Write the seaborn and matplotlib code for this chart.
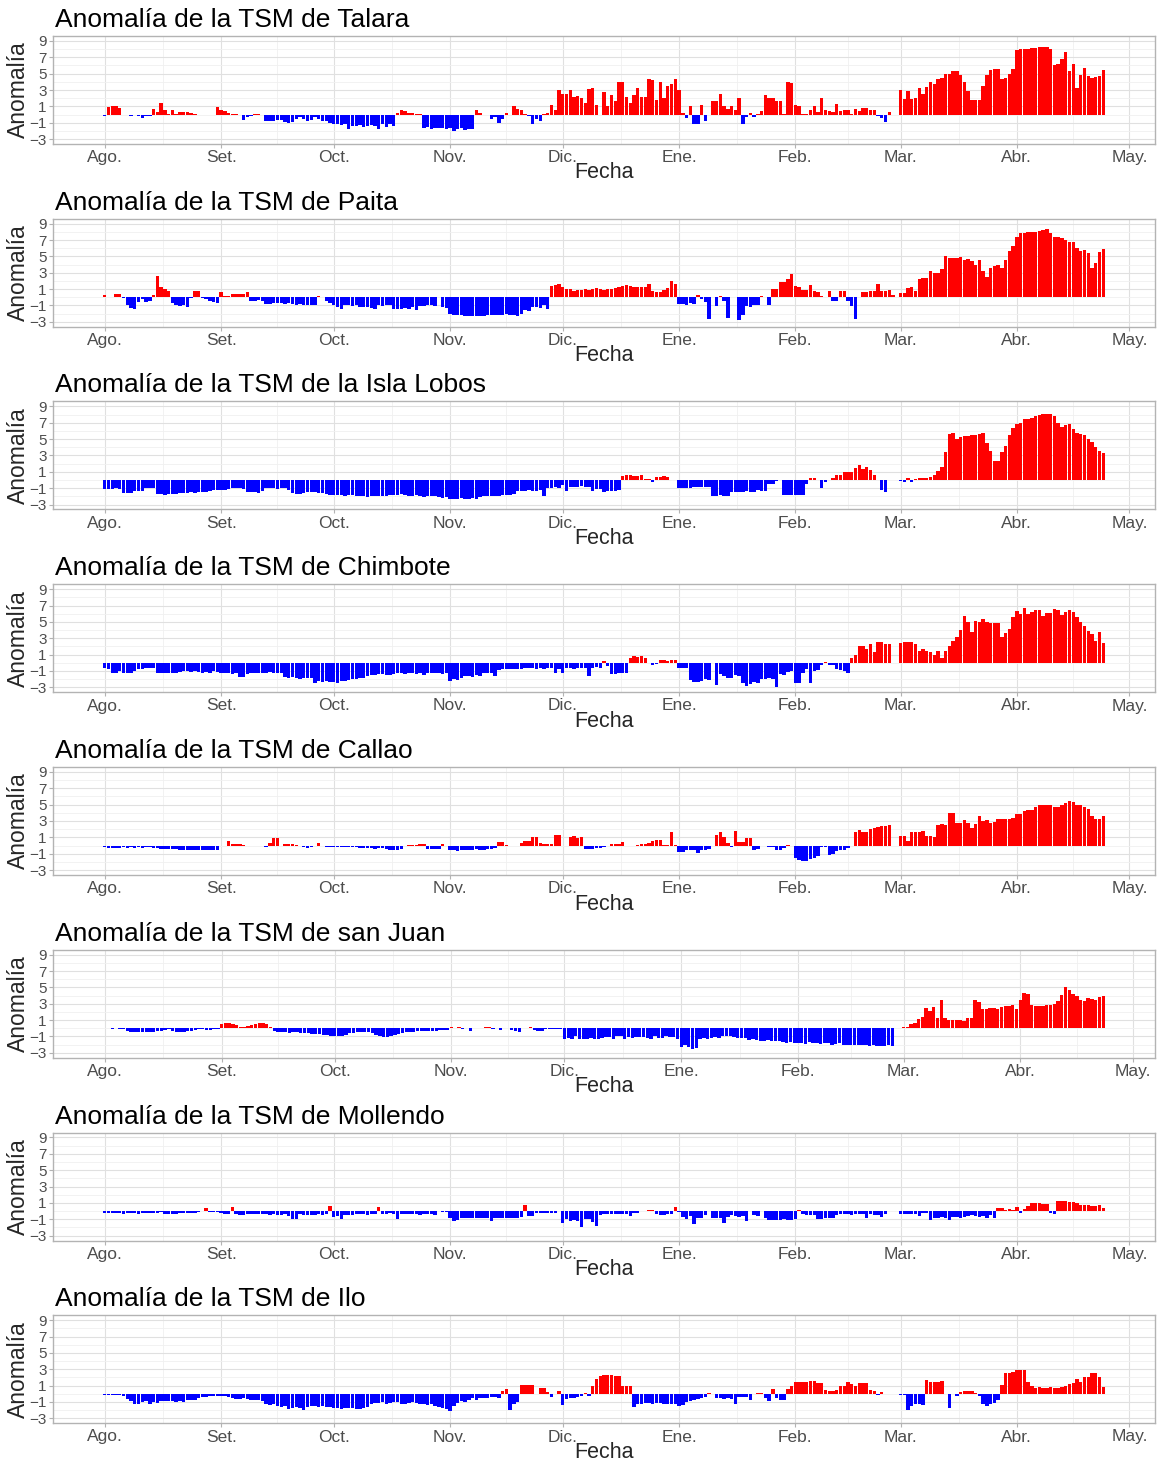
import numpy as np
import pandas as pd
import matplotlib
matplotlib.use("Agg")
import matplotlib.pyplot as plt
import seaborn as sns
from matplotlib.ticker import FixedLocator

nan = np.nan

# months Aug 2016 .. Apr 2017, one list of daily anomalies per month
meses_inicio = pd.date_range("2016-08-01", "2017-05-01", freq="MS")
meses_etiquetas = ["Ago.", "Set.", "Oct.", "Nov.", "Dic.", "Ene.", "Feb.", "Mar.", "Abr.", "May."]

talara = [
    [-0.2, 0.9, 1.1, 1.1, 0.8, -0.1, -0.1, -0.2, -0.1, -0.2, -0.4, -0.2, -0.2, 0.7, 0.3, 1.4, 0.6, 0.1, 0.5, 0.1, 0.3, 0.3, 0.3, 0.2, 0.1, 0.0, -0.05, -0.05, -0.1, -0.05, 0.9],
    [0.6, 0.4, 0.2, 0.1, 0.1, -0.1, -0.7, -0.3, -0.2, 0.1, 0.1, -0.1, -0.8, -0.8, -0.8, -0.7, -0.7, -0.9, -1.0, -0.9, -0.5, -0.3, -0.6, -0.8, -0.7, -0.3, -0.6, -0.8, -0.8, -1.0],
    [-1.1, -1.2, -1.3, -1.2, -1.8, -1.4, -1.4, -1.3, -1.5, -1.4, -1.3, -1.4, -1.8, -1.2, -1.5, -1.2, -1.4, 0.2, 0.6, 0.4, 0.2, 0.2, 0.1, 0.1, -1.6, -1.5, -1.8, -1.6, -1.7, -1.6, -1.8],
    [-1.7, -2.0, -1.8, -1.7, -1.9, -1.8, -1.8, 0.5, 0.2, 0.0, nan, -0.5, -0.3, -1.0, -0.5, 0.2, 0.0, 1.0, 0.7, 0.6, 0.1, -0.2, -1.2, -0.6, -0.8, 0.1, 0.2, 1.2, 0.5, 3.0],
    [2.5, 2.5, 3.0, 2.1, 2.3, 2.0, 1.4, 3.1, 3.2, 1.2, 0.0, 2.8, 1.0, 2.4, 1.6, 4.0, 4.0, 2.2, 1.4, 2.4, 3.2, 2.1, 2.2, 4.3, 4.2, 1.8, 4.0, 2.0, 3.5, 3.7, 4.3],
    [3.0, 0.2, -0.4, 1.0, -1.2, -1.1, 1.2, -0.8, nan, 1.6, 1.6, 2.5, 1.0, 0.7, 1.1, 0.6, 2.0, -1.2, -0.3, 0.2, -0.3, 0.05, 0.4, 2.4, 2.0, 2.0, 1.7, 1.7, 0.1, 4.0, 3.8],
    [1.2, 1.1, 0.1, 0.1, 0.6, 1.0, 0.3, 2.0, 0.6, 0.4, 0.3, 1.3, 0.4, 0.5, 0.5, 0.1, 0.7, 0.4, 0.8, 0.8, 0.6, 0.6, -0.2, -0.4, -0.9, 0.3, nan, nan],
    [3.0, 1.9, 2.9, 1.9, 2.0, 3.2, 2.5, 3.4, 4.0, 3.7, 4.3, 4.5, 4.9, 5.0, 5.3, 5.3, 4.8, 4.0, 2.9, 1.8, 1.8, 1.8, 3.5, 4.8, 5.4, 5.6, 5.6, 4.4, 4.5, 5.0, 5.6],
    [7.9, 8.0, 8.0, 8.0, 8.1, 8.1, 8.2, 8.2, 8.2, 8.0, 6.0, 6.2, 6.8, 7.6, 5.3, 6.2, 3.3, 4.8, 5.7, 4.7, 4.5, 4.6, 4.7, 5.5],
]

paita = [
    [0.3, nan, nan, 0.4, 0.4, -0.1, -0.9, -1.3, -1.4, -0.6, -0.2, -0.6, -0.4, 0.3, 2.6, 1.3, 1.0, 0.8, -0.7, -0.9, -1.1, -1.0, -1.2, -0.1, 0.8, 0.8, -0.1, -0.2, -0.4, -0.6, -0.7],
    [0.6, 0.1, 0.1, 0.4, 0.4, 0.4, 0.4, 0.6, -0.4, -0.4, -0.3, -0.5, -0.8, -0.8, -0.7, -0.7, -0.7, -0.8, -0.7, -0.8, -1.0, -0.8, -1.0, -1.0, -0.9, -1.0, 0.2, nan, -0.4, -0.7],
    [-1.0, -1.2, -1.4, -1.0, -1.0, -1.1, -1.0, -1.2, -1.2, -1.2, -1.3, -1.4, -1.0, -1.1, -1.0, -1.0, -1.4, -1.4, -1.4, -1.3, -1.4, -1.2, -1.6, -1.1, -1.1, -1.0, -1.0, -1.1, nan, -1.2, -1.3],
    [-2.0, -2.2, -2.2, -2.2, -2.3, -2.3, -2.3, -2.3, -2.3, -2.3, -2.2, -2.2, -2.2, -2.2, -2.2, -2.1, -2.2, -2.2, -2.3, -2.1, -1.6, -1.7, -1.2, -1.2, -1.3, -0.9, -1.4, 1.4, 1.5, 1.6],
    [1.3, 1.0, 1.0, 0.8, 0.9, 0.9, 1.0, 0.9, 1.0, 1.1, 1.0, 0.9, 1.0, 1.0, 1.1, 1.3, 1.4, 1.5, 1.4, 1.3, 1.3, 1.2, 1.3, 1.6, 0.8, 0.7, 0.6, 0.9, 1.1, 2.0, 1.6],
    [-0.8, -0.8, -0.9, -0.7, -0.8, 0.3, -0.2, -0.6, -2.7, nan, -1.1, 0.1, -0.5, -2.5, nan, nan, -2.8, -2.2, -1.1, -1.2, -0.9, -1.0, 0.1, nan, -1.0, 1.0, 1.0, 1.9, 1.9, 2.2, 2.9],
    [1.4, 1.3, 0.9, 0.9, 1.5, 0.8, 0.7, 0.2, nan, 0.8, -0.4, -0.5, 0.8, 0.8, -0.5, -1.1, -2.6, nan, 0.6, 0.6, 0.8, 0.8, 1.6, 0.8, 0.8, 0.9, 0.3, nan],
    [0.5, 0.5, 1.1, 1.2, 0.8, 2.2, 2.3, 2.4, 3.2, 3.0, 3.0, 3.5, 5.0, 4.8, 4.8, 4.8, 4.9, 4.6, 4.7, 4.4, 4.0, 4.5, 3.2, 2.5, 3.6, 3.8, 4.0, 3.6, 4.5, 5.7, 6.3],
    [7.4, 7.8, 7.9, 8.0, 8.0, 8.0, 8.1, 8.2, 8.3, 7.8, 7.4, 7.4, 7.2, 7.0, 6.8, 6.8, 6.0, 5.6, 5.8, 5.4, 3.6, 4.2, 5.5, 5.9],
]

lobos = [
    [-1.1, -1.1, -1.1, -1.0, -1.1, -1.6, -1.6, -1.6, -1.3, -1.3, -1.3, -1.0, -1.0, -1.0, -1.7, -1.7, -1.8, -1.7, -1.7, -1.7, -1.6, -1.6, -1.6, -1.5, -1.6, -1.5, -1.5, -1.5, -1.4, -1.2, -1.2],
    [-1.2, -1.2, -1.1, -1.0, -1.0, -1.0, -1.1, -1.5, -1.5, -1.5, -1.6, -1.4, -1.0, -1.0, -1.0, -1.1, -1.0, -1.0, -1.2, -1.6, -1.7, -1.7, -1.6, -1.5, -1.5, -1.5, -1.6, -1.6, -1.7, -1.8],
    [-1.8, -1.8, -1.8, -1.9, -1.8, -1.8, -1.9, -2.0, -2.0, -2.1, -2.0, -2.0, -2.0, -2.0, -2.0, -1.8, -1.8, -1.8, -1.7, -1.8, -1.9, -1.9, -1.8, -2.0, -2.1, -2.0, -2.0, -1.9, -2.1, -2.2, -2.1],
    [-2.3, -2.3, -2.3, -2.2, -2.3, -2.3, -2.2, -2.3, -2.1, -2.0, -2.0, -1.9, -2.0, -2.0, -1.8, -1.8, -1.8, -1.7, -1.3, -1.3, -1.3, -1.2, -1.4, -1.3, -1.2, -2.0, -1.0, -1.0, -0.9, -1.0],
    [-0.6, -1.4, -0.8, -0.8, -0.8, -0.7, -0.9, -0.8, -1.3, -1.1, -1.1, -1.5, -1.3, -1.4, -1.3, -1.2, 0.5, 0.6, 0.6, 0.5, 0.5, 0.6, 0.1, 0.1, -0.3, 0.4, 0.4, 0.5, 0.4, nan, nan],
    [-1.0, -1.0, -1.0, -1.0, -0.8, -0.9, -0.8, -0.9, -0.8, -1.9, -1.9, -1.8, -1.9, -1.9, -1.5, -1.5, -1.5, -1.5, -1.4, -1.5, -1.5, -1.2, -1.3, -1.3, -0.5, -0.5, -0.1, nan, -1.8, -1.8, -1.8],
    [-1.8, -1.8, -1.8, -0.5, 0.2, 0.3, nan, -1.0, -0.2, nan, 0.3, 0.6, 0.6, 1.0, 1.0, 1.0, 1.5, 1.8, 1.4, 1.6, 1.2, 0.6, nan, -1.2, -1.5, nan, nan, nan],
    [-0.1, -0.2, 0.2, -0.2, 0.1, 0.2, 0.2, 0.3, 0.4, 0.6, 1.1, 1.6, 3.4, 5.6, 5.8, 5.0, 5.3, 5.4, 5.4, 5.5, 5.5, 5.6, 5.7, 4.5, 3.5, 2.3, 2.3, 3.4, 4.2, 5.5, 6.3],
    [6.8, 7.0, 7.4, 7.5, 7.6, 7.8, 8.0, 8.1, 8.1, 8.1, 7.8, 7.0, 6.5, 6.7, 6.8, 6.2, 5.8, 5.6, 5.5, 5.0, 4.6, 4.0, 3.5, 3.3],
]

chimbote = [
    [-0.6, -0.7, -1.3, -1.3, -1.0, -1.2, -1.3, -1.2, -1.0, -0.8, -0.8, -0.6, -0.6, -0.6, -1.3, -1.3, -1.3, -1.3, -1.2, -1.3, -1.1, -1.0, -1.0, -1.1, -1.0, -1.1, -1.2, -1.1, -1.2, -1.0, -1.1],
    [-1.2, -1.3, -1.3, -1.4, -1.3, -1.7, -1.7, -1.4, -1.3, -1.3, -1.2, -1.3, -1.2, -1.1, -1.3, -1.2, -1.3, -1.7, -1.8, -1.7, -1.9, -2.0, -1.9, -1.8, -1.9, -2.5, -2.2, -2.3, -2.2, -2.3],
    [-2.3, -2.5, -2.2, -2.2, -2.1, -2.0, -2.0, -1.9, -1.8, -1.6, -1.5, -1.5, -1.4, -1.4, -1.5, -1.5, -1.4, -1.3, -1.3, -1.4, -1.3, -1.2, -1.4, -1.3, -1.5, -1.3, -1.2, -1.3, -1.3, -1.4, -1.3],
    [-2.2, -2.0, -2.1, -1.8, -1.6, -1.6, -1.7, -1.5, -1.6, -1.2, -1.2, -1.3, -1.6, -0.9, -0.8, -0.8, -0.7, -0.7, -0.8, -0.7, -0.6, -0.6, -0.6, -0.7, -0.6, -0.7, -0.6, -0.6, -1.3, -0.7],
    [-1.3, -0.6, -0.6, -0.7, -0.6, -0.6, -0.6, -1.6, -0.6, -0.5, -0.6, 0.2, -0.4, -1.4, -1.4, -1.3, -1.3, -1.3, 0.6, 0.8, 0.7, 0.8, 0.6, 0.0, -0.3, -0.1, 0.3, 0.3, 0.2, 0.3, 0.3],
    [-0.6, -0.6, -0.6, -2.1, -2.3, -2.4, -2.2, -2.0, -2.1, nan, -2.7, -1.4, -1.6, -1.8, -1.9, -1.5, -1.6, -2.5, -2.8, -2.6, -2.3, -2.5, -2.0, -2.0, -1.8, -2.0, -2.9, -1.4, -1.5, -1.1, -1.0],
    [-2.5, -2.5, -1.3, -0.8, -2.5, -1.0, -0.9, -0.3, 0.1, -0.3, -0.3, -0.7, -0.9, -1.0, -1.2, 0.6, 1.0, 2.0, 2.0, 1.7, 2.3, 1.3, 2.6, 2.6, 2.3, 2.3, nan, nan],
    [2.4, 2.6, 2.6, 2.5, 2.3, 1.4, 1.7, 1.5, 1.3, 1.0, 1.5, 0.6, 1.5, 2.0, 2.7, 3.2, 4.0, 5.7, 5.0, 3.8, 5.1, 5.0, 5.4, 5.0, 4.9, 4.9, 4.9, 3.1, 3.7, 4.1, 5.6],
    [6.3, 6.0, 6.7, 6.0, 6.2, 6.4, 6.4, 5.7, 6.1, 6.1, 6.6, 6.4, 5.9, 6.2, 6.5, 6.2, 5.6, 5.0, 4.5, 3.9, 3.5, 2.7, 3.8, 2.4],
]

callao = [
    [-0.2, -0.3, -0.3, -0.3, -0.3, -0.2, -0.3, -0.2, -0.3, -0.2, -0.3, -0.2, -0.2, -0.3, -0.3, -0.4, -0.4, -0.4, -0.4, -0.4, -0.5, -0.6, -0.6, -0.6, -0.6, -0.6, -0.6, -0.6, -0.6, -0.6, -0.6],
    [nan, nan, 0.6, 0.2, 0.2, 0.2, 0.1, 0.0, nan, -0.1, -0.1, -0.1, -0.2, 0.3, 0.9, 0.9, nan, 0.2, 0.2, 0.2, 0.1, nan, -0.2, -0.3, -0.2, -0.1, 0.3, -0.1, -0.2, -0.2],
    [-0.2, -0.2, -0.2, -0.2, -0.2, -0.2, -0.2, -0.3, -0.3, -0.3, -0.3, -0.4, -0.3, -0.3, -0.4, -0.5, -0.6, -0.6, -0.4, nan, 0.1, 0.1, 0.1, 0.2, 0.2, -0.4, -0.4, -0.4, -0.4, 0.2, nan],
    [-0.5, -0.6, -0.7, -0.6, -0.6, -0.5, -0.5, -0.4, -0.5, -0.5, -0.4, -0.4, -0.3, 0.4, 0.4, 0.1, -0.1, -0.1, -0.1, 0.3, 0.5, 0.6, 1.0, 1.1, 0.3, 0.2, 0.2, 0.2, 1.3, 1.3],
    [-0.1, nan, 1.0, 1.2, 0.9, 1.1, -0.4, -0.4, -0.4, -0.3, -0.3, -0.2, -0.1, 0.2, 0.2, 0.2, 0.4, -0.1, -0.1, -0.1, 0.1, 0.2, 0.2, 0.3, 0.5, 0.7, 0.7, 0.1, 0.1, 1.7, 0.1],
    [-0.8, -0.8, -0.5, -0.5, -0.6, -0.9, -0.6, -0.5, -0.4, nan, 1.3, 1.6, 1.0, 0.3, -0.2, 1.8, 0.4, 0.4, 0.9, 0.9, -0.5, -0.4, nan, nan, -0.2, -0.2, -0.6, -0.6, -0.3, 0.1, -0.1],
    [-1.5, -1.8, -1.9, -1.9, -1.7, -1.5, -1.3, -0.2, -0.2, -1.2, -1.0, -0.7, -0.6, -0.5, -0.3, nan, 1.6, 1.9, 1.6, 1.7, 2.0, 2.2, 2.3, 2.4, 2.4, 2.5, nan, nan],
    [1.2, 1.2, 0.6, 1.6, 1.6, 1.7, 1.8, 1.2, 1.2, 1.1, 2.5, 2.6, 2.5, 4.0, 4.0, 2.8, 2.8, 3.1, 2.8, 2.2, 2.6, 3.6, 3.0, 3.1, 2.7, 2.9, 3.2, 3.2, 3.3, 3.3, 3.4],
    [3.9, 3.9, 4.2, 4.3, 4.3, 4.7, 5.0, 5.0, 5.0, 5.0, 4.7, 4.7, 5.0, 5.2, 5.4, 5.3, 5.0, 5.0, 4.7, 4.5, 3.6, 3.2, 3.2, 3.6],
]

san_juan = [
    [0.05, 0.05, -0.05, 0.05, -0.05, -0.1, -0.3, -0.4, -0.4, -0.5, -0.5, -0.5, -0.4, -0.4, -0.3, -0.3, -0.2, -0.1, -0.3, -0.4, -0.4, -0.4, -0.3, -0.3, -0.2, -0.1, -0.1, -0.2, -0.2, -0.1, -0.1],
    [0.5, 0.6, 0.6, 0.5, 0.4, 0.2, 0.2, 0.3, 0.4, 0.5, 0.6, 0.7, 0.5, 0.2, -0.3, -0.5, -0.5, -0.5, -0.6, -0.5, -0.5, -0.6, -0.6, -0.6, -0.7, -0.7, -0.7, -0.8, -0.8, -0.9],
    [-0.9, -1.0, -0.9, -0.8, -0.6, -0.6, -0.5, -0.5, -0.4, -0.5, -0.6, -0.8, -1.0, -1.1, -1.1, -1.0, -0.8, -0.7, -0.6, -0.5, -0.4, -0.4, -0.3, -0.3, -0.3, -0.3, -0.3, -0.3, -0.2, -0.2, -0.2],
    [0.2, nan, 0.2, -0.1, nan, -0.3, nan, nan, nan, 0.1, 0.1, -0.1, nan, -0.2, nan, nan, -0.2, -0.3, -0.4, nan, nan, 0.1, -0.2, -0.3, -0.3, -0.1, -0.1, -0.1, -0.1, -0.1],
    [-1.3, -1.2, -1.3, -1.0, -1.3, -1.3, -1.3, -1.2, -1.3, -1.3, -1.2, -1.1, -1.1, -1.3, -1.0, -1.0, -1.3, -1.1, -1.2, -1.1, -1.1, -1.1, -1.2, -1.3, -1.0, -1.2, -1.2, -1.0, -1.1, -1.1, -1.3],
    [-2.3, -2.0, -2.3, -2.5, -2.4, -1.3, -1.2, -1.3, -1.2, -1.1, -1.2, -1.0, -0.9, -1.0, -1.1, -1.2, -1.2, -1.2, -1.4, -1.3, -1.4, -1.5, -1.5, -1.4, -1.6, -1.6, -1.5, -1.7, -1.8, -1.7, -1.8],
    [-1.8, -1.8, -1.9, -1.7, -1.8, -1.8, -1.9, -1.8, -1.8, -2.0, -1.9, -1.8, -2.1, -2.1, -2.0, -2.0, -2.1, -2.1, -2.0, -2.2, -2.1, -2.2, -2.2, -2.2, -2.1, -2.2, nan, nan],
    [0.2, 0.1, 0.5, 0.7, 1.1, 1.4, 2.5, 2.1, 2.6, 1.2, 3.5, 1.3, 1.0, 1.0, 1.0, 1.0, 0.9, 1.2, 1.3, 3.5, 3.2, 2.4, 2.4, 2.5, 2.5, 2.3, 2.6, 2.7, 2.7, 2.9, 2.4],
    [3.4, 4.3, 4.2, 2.8, 2.7, 2.7, 2.7, 2.8, 2.8, 3.0, 3.3, 4.1, 5.0, 4.7, 4.2, 3.9, 3.4, 3.3, 3.7, 3.6, 3.5, 3.8, 3.9],
]

mollendo = [
    [-0.2, -0.2, -0.2, -0.2, -0.2, -0.3, -0.2, -0.2, -0.2, -0.3, -0.2, -0.2, -0.2, -0.2, -0.2, -0.1, -0.4, -0.4, -0.4, -0.3, -0.2, -0.2, -0.2, -0.2, -0.2, -0.1, nan, 0.4, -0.1, -0.1, -0.1],
    [-0.2, -0.3, -0.3, 0.5, -0.3, -0.5, -0.5, -0.4, -0.4, -0.4, -0.3, -0.3, -0.4, -0.5, -0.4, -0.5, -0.5, -0.4, -0.6, -1.0, -1.0, -0.4, -0.5, -0.5, -0.5, -0.5, -0.4, -0.5, -0.4, 0.6],
    [-0.7, -0.6, -1.0, -0.5, -0.5, -0.5, -0.4, -0.4, -0.4, -0.5, -0.3, -0.4, 0.5, -0.3, -0.3, -0.2, -0.3, -1.0, -0.3, -0.3, -0.4, -0.4, -0.4, -0.5, -0.3, -0.4, -0.4, -0.5, nan, -0.1, -0.1],
    [-0.9, -1.2, -1.1, -0.9, -0.8, -0.9, -0.9, -0.9, -0.8, -0.9, -0.8, -1.2, -0.9, -0.9, -0.9, -0.9, -0.9, -0.9, -0.8, -0.7, 0.7, -0.6, -0.6, -0.2, -0.2, -0.2, -0.2, -0.2, -0.2, nan],
    [-1.5, -1.0, -1.2, -1.1, -1.2, -1.9, -1.0, -1.0, -1.3, -1.8, -0.5, -0.4, -0.4, -0.4, -0.4, -0.3, -0.3, -0.3, -0.6, -0.2, -0.2, nan, nan, 0.1, 0.1, -0.4, -0.5, -0.5, -0.4, -0.4, 0.5],
    [-0.1, -0.7, -1.0, -0.6, -1.6, -0.8, -0.8, -0.5, nan, -0.8, -0.8, -0.8, -1.5, -0.7, -0.5, -0.6, -0.7, -0.6, -1.2, nan, -0.5, -0.6, nan, -0.8, -1.1, -1.1, -1.1, -1.1, -1.0, -1.1, -1.1],
    [-1.0, 0.1, -0.3, -0.5, -0.5, -0.5, -1.0, -1.0, -0.9, -0.9, -0.9, -0.5, -0.4, -0.4, -0.3, -0.5, -0.4, -0.4, -0.3, -0.9, -0.4, -0.5, -0.5, -0.7, -0.4, nan, nan, nan],
    [-0.3, -0.3, -0.4, -0.3, -0.4, -0.6, -0.2, -0.2, -1.1, -0.8, -0.8, -0.7, -0.8, -1.1, -0.7, -0.7, -0.8, -0.7, -0.6, -0.5, -0.6, -0.7, -0.6, -0.8, -0.5, -0.8, 0.4, 0.4, 0.1, 0.3, 0.1],
    [0.5, -0.2, 0.3, 0.6, 1.0, 1.0, 1.0, 0.9, 0.9, -0.2, -0.3, 1.2, 1.2, 1.2, 1.1, 1.1, 1.0, 0.8, 0.7, 0.7, 0.6, 0.6, 0.8, 0.4],
]

ilo = [
    [-0.1, -0.2, -0.2, -0.2, -0.2, -0.3, -0.6, -0.9, -1.2, -1.2, -1.0, -0.9, -1.2, -1.0, -1.1, -0.9, -0.9, -0.9, -0.9, -1.0, -0.9, -1.0, -0.8, -0.8, -0.8, -0.5, -0.4, -0.4, -0.3, -0.3, -0.3],
    [-0.3, -0.3, -0.4, -0.5, -0.6, -0.6, -0.5, -0.6, -0.7, -0.7, -0.8, -0.9, -1.3, -1.4, -1.3, -1.5, -1.6, -1.5, -1.8, -1.7, -1.6, -1.7, -2.0, -1.6, -1.5, -1.5, -1.6, -1.5, -1.6, -1.6],
    [-1.7, -1.7, -1.8, -1.7, -1.7, -1.7, -1.8, -1.9, -1.7, -1.6, -1.2, -1.1, -1.1, -1.0, -1.2, -1.1, -1.0, -1.0, -1.2, -1.3, -1.1, -1.0, -1.1, -1.2, -1.3, -1.4, -1.3, -1.5, -1.6, -1.7, -1.8],
    [-2.1, -1.5, -1.1, -0.9, -1.0, -0.7, -0.5, -0.7, -0.5, -0.5, -0.5, -0.4, -0.4, -0.5, 0.3, 0.6, -2.0, -1.2, -1.0, 1.1, 1.1, 1.1, 1.1, nan, 0.7, 0.7, 0.2, -0.4, nan, 0.4],
    [-1.4, -0.6, -0.5, -0.5, -0.4, -0.3, 0.1, -0.3, 1.0, 1.8, 2.2, 2.3, 2.3, 2.3, 2.2, 2.2, 0.9, 0.9, 0.9, -1.6, -1.3, -1.2, -1.1, -1.1, -1.2, -1.1, -1.1, -1.2, -1.3, -1.2, -1.3],
    [-1.5, -1.4, -1.0, -0.9, -0.7, -0.6, -0.5, -0.4, 0.1, nan, -0.5, -0.5, -0.6, -0.5, -0.6, -1.2, -0.4, -0.4, -0.4, -0.8, nan, 0.1, 0.1, -0.5, -0.9, 0.6, -0.5, -0.8, -0.7, 0.6, 1.0],
    [1.5, 1.5, 1.4, 1.4, 1.6, 1.6, 1.3, 1.3, 0.5, 0.4, 0.4, 0.5, 1.0, 1.0, 1.5, 1.2, 1.0, 1.3, 1.3, 1.3, 0.5, 0.4, -0.1, 0.2, nan, nan, nan, nan],
    [-0.1, -0.1, -2.0, -1.5, -1.3, -1.3, -1.4, 1.7, 1.5, 1.4, 1.4, 1.6, nan, -1.7, nan, -0.3, 0.2, 0.3, 0.3, 0.4, 0.1, -0.3, -1.3, -1.5, -1.2, -1.1, -0.8, 1.1, 2.5, 2.6, 2.7],
    [2.9, 2.9, 2.9, 1.5, 1.0, 0.7, 0.8, 0.7, 0.7, 0.8, 0.7, 0.7, 0.8, 1.0, 1.2, 1.3, 1.8, 1.5, 2.1, 2.0, 2.5, 2.6, 2.0, 0.8],
]

estaciones = ["Talara", "Paita", "la Isla Lobos", "Chimbote", "Callao", "san Juan", "Mollendo", "Ilo"]
series = [talara, paita, lobos, chimbote, callao, san_juan, mollendo, ilo]

origen = meses_inicio[0]


def armar_tabla(meses):
    partes = []
    for inicio, valores in zip(meses_inicio, meses):
        fechas = pd.date_range(inicio, periods=len(valores), freq="D")
        partes.append(pd.DataFrame({"fecha": fechas, "anomalia": valores}))
    df = pd.concat(partes, ignore_index=True).dropna()
    df["dia"] = (df["fecha"] - origen).dt.days
    df["signo"] = np.where(df["anomalia"] >= 0, "pos", "neg")
    return df


sns.set_theme(style="whitegrid")
plt.rcParams["font.family"] = ["Liberation Sans", "DejaVu Sans"]

W, H = 1159, 1463
fig = plt.figure(figsize=(W / 100, H / 100), dpi=100)

dias_mes = [(m - origen).days for m in meses_inicio]
dias_medio = [(a + b) / 2 for a, b in zip(dias_mes[:-1], dias_mes[1:])]

paso = 182.75
for k, (nombre, meses) in enumerate(zip(estaciones, series)):
    df = armar_tabla(meses)
    top = 36 + paso * k
    ax = fig.add_axes([53 / W, 1 - (top + 108) / H, 1102 / W, 108 / H])

    sns.barplot(data=df, x="dia", y="anomalia", hue="signo",
                hue_order=["pos", "neg"],
                palette={"pos": "#FF0000", "neg": "#0000FF"},
                native_scale=True, dodge=False, width=0.9, errorbar=None,
                saturation=1, linewidth=0, legend=False, ax=ax)

    # ggplot-like 5% expansion around the bars
    lo = df["dia"].min() - 0.45
    hi = df["dia"].max() + 0.45
    r = hi - lo
    ax.set_xlim(lo - 0.05 * r, hi + 0.05 * r)
    ax.set_ylim(-3.6, 9.6)

    ax.set_yticks([-3, -1, 1, 3, 5, 7, 9])
    ax.yaxis.set_minor_locator(FixedLocator([-2, 0, 2, 4, 6, 8]))
    ax.set_xticks(dias_mes)
    ax.set_xticklabels(meses_etiquetas)
    ax.xaxis.set_minor_locator(FixedLocator(dias_medio))

    ax.grid(which="major", color="#E0E0E0", linewidth=0.8)
    ax.grid(which="minor", color="#F0F0F0", linewidth=0.6)
    ax.set_axisbelow(True)
    for s in ax.spines.values():
        s.set_color("#B3B3B3")
        s.set_linewidth(1.0)

    ax.tick_params(which="major", length=3, width=0.8, color="#B3B3B3",
                   labelcolor="#4D4D4D", pad=1.5, bottom=True, left=True)
    ax.tick_params(which="minor", length=0)
    ax.tick_params(axis="x", labelsize=12.5)
    ax.tick_params(axis="y", labelsize=11)

    ax.set_ylabel("Anomalía", fontsize=16.5, va="center")
    ax.yaxis.set_label_coords(-35 / 1102, 0.5)
    ax.set_xlabel("Fecha", fontsize=15.5, va="center")
    ax.xaxis.set_label_coords(0.5, -29 / 108)

    fig.text(55 / W, 1 - (27 + paso * k) / H, f"Anomalía de la TSM de {nombre}",
             fontsize=19, ha="left", va="baseline", color="black")

fig.savefig("out.png", dpi=100)
